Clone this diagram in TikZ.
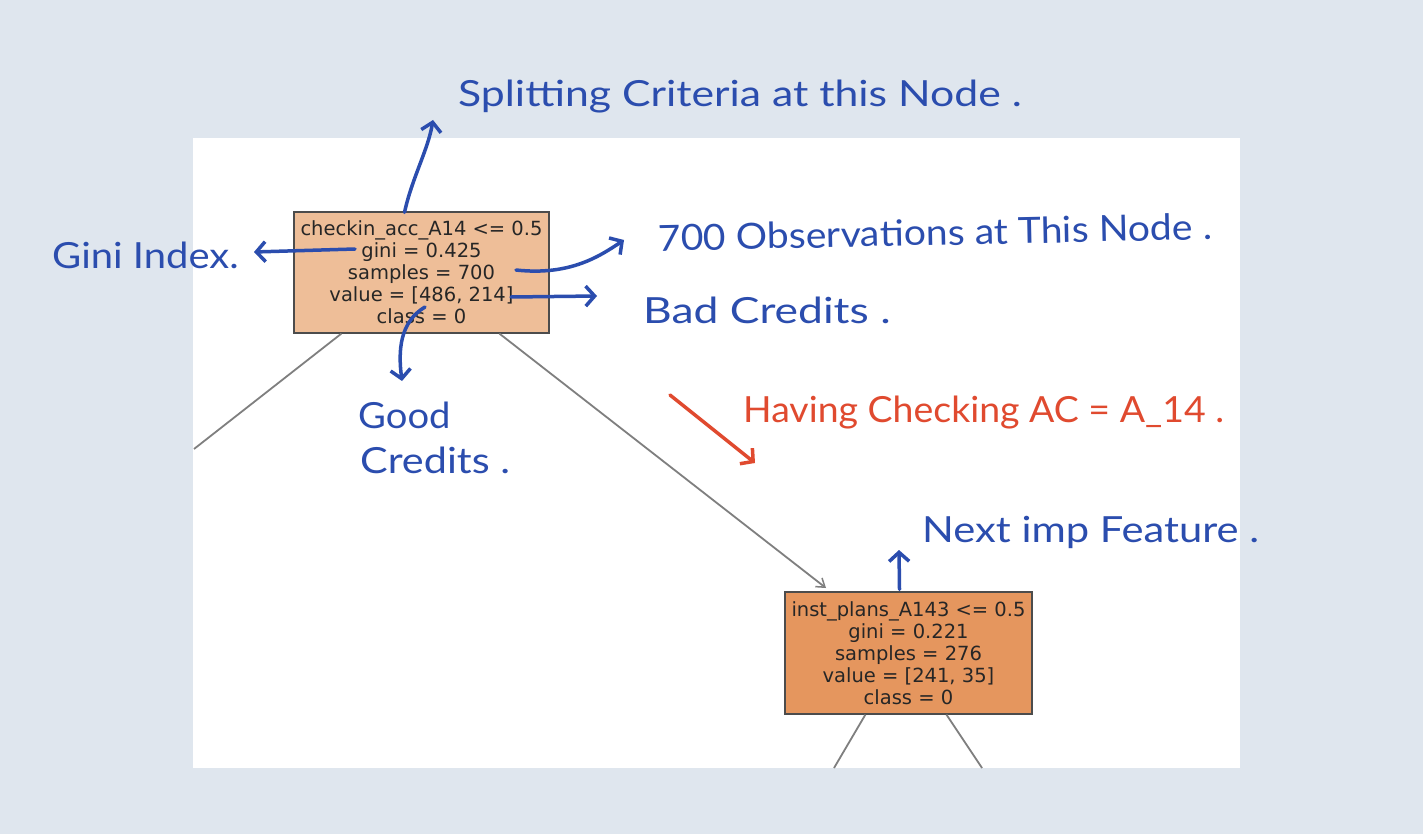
\documentclass[tikz,border=0pt]{standalone}
\usepackage{fontspec}
\setmainfont{DejaVu Sans}
\newfontfamily\handfont{Lato}
\usetikzlibrary{arrows.meta,calc}
\definecolor{bgc}{HTML}{DFE6EE}
\definecolor{inkblue}{HTML}{2B4DAE}
\definecolor{inkred}{HTML}{E04A2F}
\definecolor{nodeA}{HTML}{EEBE98}
\definecolor{nodeB}{HTML}{E5965E}
\definecolor{edgegray}{HTML}{7F7F7F}
\newcommand{\hw}[2]{\scalebox{#1}[1]{#2}}
\begin{document}
\begin{tikzpicture}[x=1pt,y=-1pt,
  treebox/.style={draw=black!70,line width=1.2pt,inner sep=0pt,align=center,
    font=\fontsize{19.5}{22}\selectfont,text=black!85},
  treeedge/.style={draw=edgegray,line width=1.8pt},
  treearrow/.style={treeedge,-{Straight Barb[length=8pt,width=11pt,line width=1.5pt]}},
  ink/.style={draw=inkblue,line width=3.5pt,line cap=round,
    -{Straight Barb[length=9pt,width=20pt]}},
  redink/.style={ink,draw=inkred},
  handtext/.style={text=inkblue,font=\handfont\fontsize{36}{40}\selectfont,inner sep=0pt,anchor=west},
  redtext/.style={handtext,text=inkred}
]
\path[use as bounding box,fill=bgc] (0,0) rectangle (1423,834);
\fill[white] (193,138) rectangle (1240,768);

% tree nodes
\node[treebox,fill=nodeA,minimum width=255pt,minimum height=121pt] (n1) at (421.5,272.5)
  {checkin\_acc\_A14 <= 0.5\\gini = 0.425\\samples = 700\\value = [486, 214]\\class = 0};
\node[treebox,fill=nodeB,minimum width=247pt,minimum height=122pt] (n2) at (908.5,653)
  {inst\_plans\_A143 <= 0.5\\gini = 0.221\\samples = 276\\value = [241, 35]\\class = 0};

% tree edges
\coordinate (e1a) at ($(n1.south west)+(48,0)$);
\coordinate (e1b) at (194,449);
\coordinate (e2a) at ($(n1.south west)+(206,0)$);
\coordinate (e2b) at (826,588);
\coordinate (e3a) at ($(n2.south west)+(81,0)$);
\coordinate (e3b) at (834,768);
\coordinate (e4a) at ($(n2.south west)+(162,0)$);
\coordinate (e4b) at (982,768);
\draw[treeedge] (e1a) -- (e1b);
\draw[treearrow] (e2a) -- (e2b);
\draw[treeedge] (e3a) -- (e3b);
\draw[treeedge] (e4a) -- (e4b);

% annotation texts
\node[handtext] (tsplit) at (458,97) {\hw{1.187}{Splitting Criteria at this Node .}};
\node[handtext] (tgini) at (52,255) {\hw{1.11}{Gini Index.}};
\node[handtext,rotate=1.2] (tobs) at (658,238) {\hw{1.086}{700 Observations at This Node .}};
\node[handtext] (tbad) at (643,310) {\hw{1.234}{Bad Credits .}};
\node[handtext] (tgood) at (358,415) {\hw{1.06}{Good}};
\node[handtext] (tcred) at (360,460) {\hw{1.15}{Credits .}};
\node[redtext] (tred) at (743,413) {\hw{1.04}{Having Checking AC = A\_14 .}};
\node[handtext] (tnext) at (922,532) {\hw{1.158}{Next imp Feature .}};

% annotation arrows
\coordinate (asplit0) at ($(n1.north)+(-17,1)$);
\coordinate (asplit1) at (433,120);
\draw[ink] (asplit0) .. controls (412,178) and (428,150) .. (asplit1);
\coordinate (agini0) at (355,249);
\coordinate (agini1) at (254,252);
\draw[ink] (agini0) -- (agini1);
\coordinate (aobs0) at (516,270);
\coordinate (aobs1) at (624,240);
\draw[ink] (aobs0) .. controls (570,276) and (600,256) .. (aobs1);
\coordinate (abad0) at (511,297);
\coordinate (abad1) at (597,296);
\draw[ink] (abad0) -- (abad1);
\coordinate (agood0) at (425,307);
\coordinate (agood1) at (402,381);
\draw[ink] (agood0) .. controls (400,322) and (398,350) .. (agood1);
\coordinate (ared0) at (670,395);
\coordinate (ared1) at (755,463);
\draw[redink] (ared0) -- (ared1);
\coordinate (anext0) at ($(n2.north)+(-9,-2)$);
\coordinate (anext1) at (899,550);
\draw[ink] (anext0) -- (anext1);
\end{tikzpicture}
\end{document}
